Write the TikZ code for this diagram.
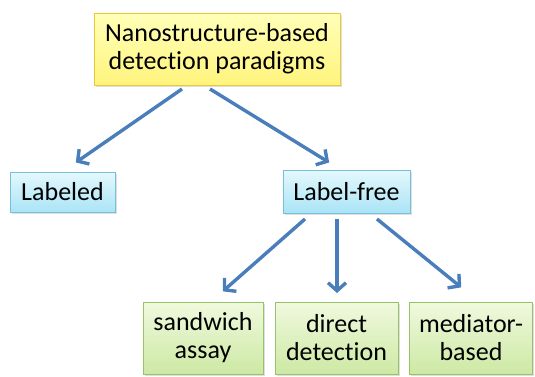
\documentclass[tikz,border=0pt]{standalone}
\usepackage{fontspec}
\setmainfont{Carlito}[Ligatures={NoCommon}]
\usetikzlibrary{arrows.meta,shadows}
\definecolor{arrowblue}{HTML}{4A7EBB}
\definecolor{ytop}{HTML}{FFFFB8}
\definecolor{ybot}{HTML}{FFF47E}
\definecolor{yline}{HTML}{EBC83A}
\definecolor{ctop}{HTML}{E4F8FD}
\definecolor{cbot}{HTML}{AAE4F6}
\definecolor{cline}{HTML}{78BFD8}
\definecolor{gtop}{HTML}{F0F9DE}
\definecolor{gbot}{HTML}{CDE9A4}
\definecolor{gline}{HTML}{98C26A}
\tikzset{
  boxbase/.style={draw, line width=1pt, inner sep=0pt, align=center,
    font=\fontsize{26}{28}\selectfont,
    drop shadow={shadow xshift=1.5pt, shadow yshift=-1.5pt, opacity=0.25}},
  ybox/.style={boxbase, draw=yline, top color=ytop, bottom color=ybot},
  cbox/.style={boxbase, draw=cline, top color=ctop, bottom color=cbot},
  gbox/.style={boxbase, draw=gline, top color=gtop, bottom color=gbot},
  conn/.style={draw=arrowblue, line width=3.4pt,
    -{Straight Barb[length=8pt, width=18pt, line width=3.4pt]}, shorten >=1pt}
}
\begin{document}
\begin{tikzpicture}[x=1pt, y=-1pt]
\useasboundingbox (0,0) rectangle (535,376);
\node[ybox, minimum width=246pt, minimum height=72pt] (top) at (217,49) {Nanostructure-based\\detection paradigms};
\node[cbox, minimum width=105pt, minimum height=40pt] (lab) at (62.5,192) {Labeled};
\node[cbox, minimum width=127pt, minimum height=43pt] (free) at (346.5,191.5) {Label-free};
\node[gbox, minimum width=120pt, minimum height=72pt] (sand) at (203,338) {sandwich\\assay};
\node[gbox, minimum width=123pt, minimum height=72pt] (dir) at (336.5,338) {direct\\detection};
\node[gbox, minimum width=123pt, minimum height=72pt] (med) at (471,338) {mediator-\\based};
\coordinate (a1s) at (182,89);
\coordinate (a1e) at (75,163);
\coordinate (a2s) at (210,89);
\coordinate (a2e) at (330,163);
\coordinate (a3s) at (305,219);
\coordinate (a3e) at (222,292);
\coordinate (a4s) at (337,219);
\coordinate (a4e) at (337,294);
\coordinate (a5s) at (377,219);
\coordinate (a5e) at (462,288);
\draw[conn] (a1s) -- (a1e);
\draw[conn] (a2s) -- (a2e);
\draw[conn] (a3s) -- (a3e);
\draw[conn] (a4s) -- (a4e);
\draw[conn] (a5s) -- (a5e);
\end{tikzpicture}
\end{document}
